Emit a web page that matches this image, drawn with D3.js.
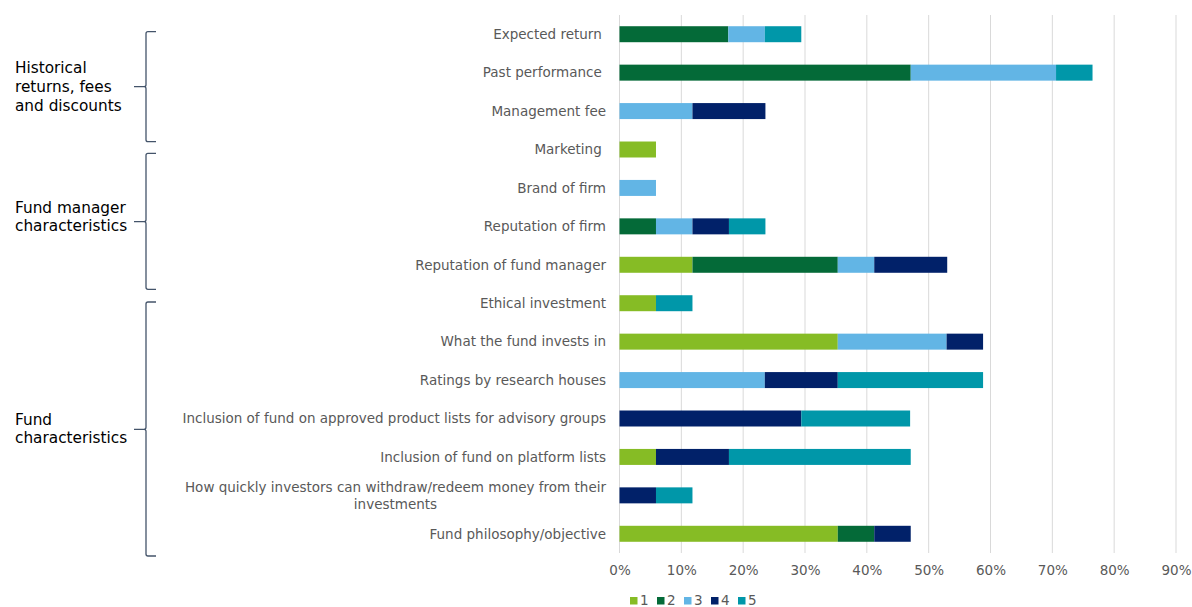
<!DOCTYPE html>
<html><head><meta charset="utf-8">
<script src="https://cdn.jsdelivr.net/npm/d3@7"></script>
<style>
body{margin:0;background:#fff;}
svg{display:block;font-family:"DejaVu Sans",Verdana,sans-serif;}
</style></head>
<body><svg id="c" width="1192" height="607"></svg>
<script>
const categories = [
  "Expected return ", "Past performance ", "Management fee", "Marketing ",
  "Brand of firm", "Reputation of firm", "Reputation of fund manager",
  "Ethical investment", "What the fund invests in", "Ratings by research houses",
  "Inclusion of fund on approved product lists for advisory groups",
  "Inclusion of fund on platform lists",
  "How quickly investors can withdraw/redeem money from their|investments",
  "Fund philosophy/objective"
];
const seriesNames = ["1","2","3","4","5"];
const s1 = [0, 0, 0, 5.9, 0, 0, 11.8, 5.9, 35.3, 0, 0, 5.9, 0, 35.3];
const s2 = [17.6, 47.1, 0, 0, 0, 5.9, 23.5, 0, 0, 0, 0, 0, 0, 5.9];
const s3 = [5.9, 23.5, 11.8, 0, 5.9, 5.9, 5.9, 0, 17.6, 23.5, 0, 0, 0, 0];
const s4 = [0, 0, 11.8, 0, 0, 5.9, 11.8, 0, 5.9, 11.8, 29.4, 11.8, 5.9, 5.9];
const s5 = [5.9, 5.9, 0, 0, 0, 5.9, 0, 5.9, 0, 23.5, 17.6, 29.4, 5.9, 0];
const tickValues = [0,10,20,30,40,50,60,70,80,90];
const groups = [
  {lines:["Historical","returns, fees","and discounts"], from:0, to:2},
  {lines:["Fund manager","characteristics"], from:3, to:6},
  {lines:["Fund","characteristics"], from:7, to:13}
];
const colors = ["#86BC25","#046A38","#62B5E5","#012169","#0097A9"];

const svg = d3.select("#c");
const x = d3.scaleLinear().domain([0,90]).range([619.5,1176]);
const y = d3.scaleBand().domain(d3.range(categories.length)).range([15,553]).paddingInner(0.584).paddingOuter(0.292);

// gridlines
svg.append("g").selectAll("line").data(tickValues).join("line")
  .attr("x1",d=>x(d)).attr("x2",d=>x(d)).attr("y1",15).attr("y2",553)
  .attr("stroke","#d9d9d9").attr("stroke-width",1);

// stack
const rows = categories.map((c,i)=>({i, "1":s1[i],"2":s2[i],"3":s3[i],"4":s4[i],"5":s5[i]}));
const stack = d3.stack().keys(seriesNames)(rows);
svg.append("g").selectAll("g").data(stack).join("g")
  .attr("fill",(d,k)=>colors[k])
  .selectAll("rect").data(d=>d).join("rect")
  .attr("x",d=>x(d[0])).attr("width",d=>x(d[1])-x(d[0]))
  .attr("y",(d,j)=>y(j)).attr("height",y.bandwidth());

// x axis labels
const xa = svg.append("g").attr("transform","translate(0,553)")
  .call(d3.axisBottom(x).tickValues(tickValues).tickFormat(d=>d+"%").tickSize(0).tickPadding(12));
xa.select(".domain").remove();
xa.selectAll("text").attr("font-size","13.5px").attr("fill","#595959").attr("font-family","DejaVu Sans, Verdana, sans-serif");

// category labels
const yl = svg.append("g");
categories.forEach((c,i)=>{
  const parts = c.split("|");
  const cy = y(i)+y.bandwidth()/2;
  if(parts.length===1){
    yl.append("text").attr("x",606).attr("y",cy).attr("dy","0.35em")
      .attr("text-anchor","end").attr("font-size","13.5px").attr("fill","#595959")
      .style("white-space","pre").text(c);
  } else {
    const t = yl.append("text").attr("font-size","13.5px").attr("fill","#595959");
    const tmp = t.append("tspan").text(parts[0]);
    const w = tmp.node().getComputedTextLength();
    tmp.remove();
    const center = 606 - w/2;
    parts.forEach((p,k)=>{
      t.append("tspan").attr("x",center).attr("y",cy + (k-0.5)*17).attr("dy","0.35em")
        .attr("text-anchor","middle").text(p);
    });
  }
});

// brackets and group labels
const bracketY = [[31.7,86.7,141.7],[153.3,221.7,289.3],[302,429.3,556]];
const labelBase = [[73,92,111],[213,231],[425,443]];
groups.forEach((g,k)=>{
  const [t,m,b] = bracketY[k];
  const p = `M156,${t} L148,${t} Q146,${t} 146,${t+2} L146,${m-2} Q146,${m} 144,${m} L134,${m} M144,${m} Q146,${m} 146,${m+2} L146,${b-2} Q146,${b} 148,${b} L156,${b}`;
  svg.append("path").attr("d",p).attr("fill","none").attr("stroke","#44546A").attr("stroke-width",1.3);
  g.lines.forEach((l,j)=>{
    svg.append("text").attr("x",15).attr("y",labelBase[k][j]).attr("font-size","15.3px").attr("fill","#000").text(l);
  });
});

// legend
const lg = svg.append("g");
seriesNames.forEach((s,k)=>{
  const lx = 630 + k*27;
  lg.append("rect").attr("x",lx).attr("y",597).attr("width",7.5).attr("height",7.5).attr("fill",colors[k]);
  lg.append("text").attr("x",lx+10).attr("y",600.5).attr("dy","0.35em").attr("font-size","13.5px").attr("fill","#595959").text(s);
});
</script></body></html>
